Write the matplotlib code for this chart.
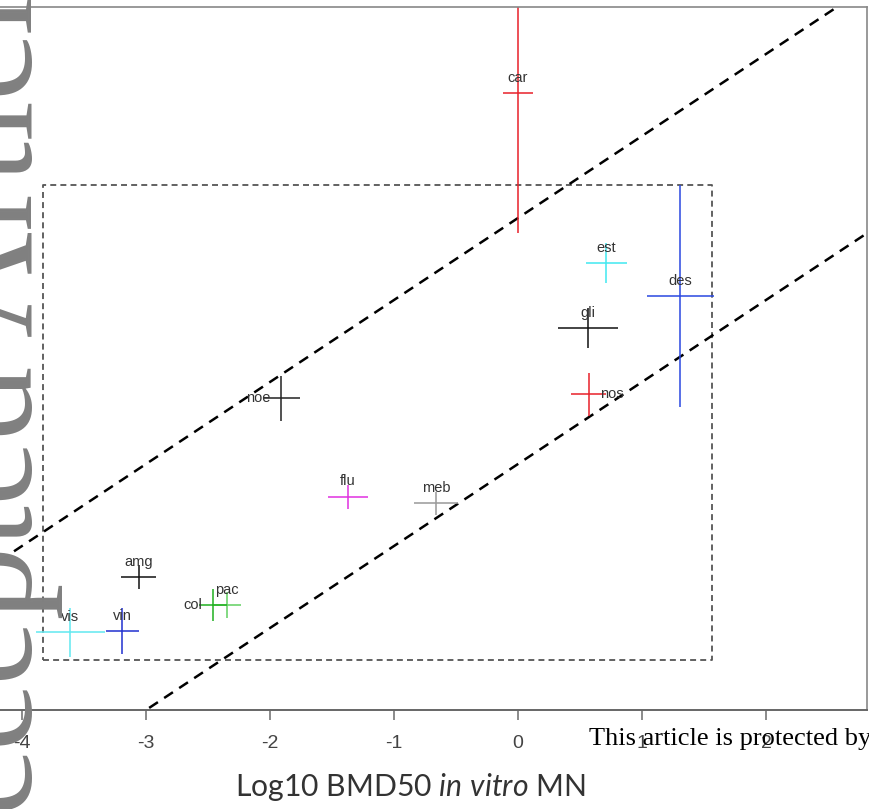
import numpy as np
import matplotlib
matplotlib.use("Agg")
import matplotlib.pyplot as plt

# compounds, log10 BMD50 in vitro (x) vs in vivo (y), with uncertainty
names = ['car', 'est', 'des', 'gli', 'nos', 'noe', 'flu', 'meb', 'amg', 'pac', 'col', 'vis', 'vin']
bmd_vitro = [0.0, 0.71, 1.31, 0.565, 0.57, -1.91, -1.37, -0.66, -3.06, -2.35, -2.46, -3.61, -3.19]
bmd_vivo = [3.02, 0.95, 0.55, 0.16, -0.65, -0.70, -1.90, -1.98, -2.88, -3.22, -3.22, -3.55, -3.54]
err_vitro = [0.12, 0.165, 0.27, 0.24, 0.14, 0.15, 0.16, 0.18, 0.14, 0.12, 0.11, 0.28, 0.13]
err_vivo = [1.70, 0.24, 1.35, 0.24, 0.26, 0.27, 0.15, 0.14, 0.15, 0.16, 0.20, 0.30, 0.28]
colors = ['#e8202a', '#40e8f0', '#2a48e0', '#111111', '#e8202a', '#222222', '#e030e0',
          '#999999', '#111111', '#60d060', '#20b020', '#60e8f0', '#2030d0']
label_pos = ['top', 'top', 'top', 'top', 'right', 'left', 'top', 'top', 'top', 'top',
             'left', 'top', 'top']

# dashed box and the +/- band around the identity line
box_x = [-3.83, 1.565]
box_y = [-3.89, 1.90]
band = 1.5
ticks = [-4, -3, -2, -1, 0, 1, 2]

fig = plt.figure(figsize=(8.7, 8.09), dpi=100)
ax = fig.add_axes([0, 1 - 710 / 809, 867 / 870, 703 / 809])
ax.set_xlim(-518 / 124, 349 / 124)
ax.set_ylim(-369 / 82, 334 / 82)

ax.plot([box_x[0], box_x[1], box_x[1], box_x[0], box_x[0]],
        [box_y[0], box_y[0], box_y[1], box_y[1], box_y[0]],
        color='#555555', lw=1.3, dashes=(3.3, 2.3))

xx = np.array([-5, 3])
for off in (band, -band):
    ax.plot(xx, xx + off, color='black', lw=1.8, dashes=(4.2, 3))

for i in range(len(names)):
    ax.errorbar(bmd_vitro[i], bmd_vivo[i], xerr=err_vitro[i], yerr=err_vivo[i],
                fmt='none', ecolor=colors[i], elinewidth=1.1, capsize=0)
    if label_pos[i] == 'top':
        ax.annotate(names[i], (bmd_vitro[i], bmd_vivo[i]), xytext=(0, 6),
                    textcoords='offset points', ha='center', va='bottom',
                    fontsize=10.5, color='#333333', family='Liberation Sans')
    elif label_pos[i] == 'right':
        ax.annotate(names[i], (bmd_vitro[i], bmd_vivo[i]), xytext=(8, 0),
                    textcoords='offset points', ha='left', va='center',
                    fontsize=10.5, color='#333333', family='Liberation Sans')
    else:
        ax.annotate(names[i], (bmd_vitro[i], bmd_vivo[i]), xytext=(-8, 0),
                    textcoords='offset points', ha='right', va='center',
                    fontsize=10.5, color='#333333', family='Liberation Sans')

ax.spines['left'].set_visible(False)
ax.spines['bottom'].set_color('#666666')
ax.spines['bottom'].set_linewidth(1.4)
for s in ['top', 'right']:
    ax.spines[s].set_color('#888888')
    ax.spines[s].set_linewidth(1.2)
ax.set_yticks([])
ax.set_xticks(ticks)
ax.set_xticklabels([str(t) for t in ticks], family='Liberation Sans', fontsize=14, color='#444444')
ax.tick_params(axis='x', length=7, width=1.2, color='#777777', pad=11)

plt.rcParams['mathtext.fontset'] = 'custom'
plt.rcParams['mathtext.rm'] = 'Lato'
plt.rcParams['mathtext.it'] = 'Lato:italic'
fig.text(410 / 870, 1 - 787 / 809, r'Log10 BMD50 $\mathit{in\ vitro}$ MN', family='Lato',
         fontsize=21.7, color='#333333', ha='center', va='center')

# journal watermark and footer
fig.text(32 / 870, 881 / 809, 'Accepted Article', family='Liberation Serif', fontsize=106,
         color='#808080', rotation=90, rotation_mode='anchor', ha='right', va='baseline')
fig.text(589 / 870, 1 - 745 / 809, 'This article is protected by', family='Liberation Serif',
         fontsize=19, color='black', ha='left', va='baseline')

fig.savefig('out.png', dpi=100)
